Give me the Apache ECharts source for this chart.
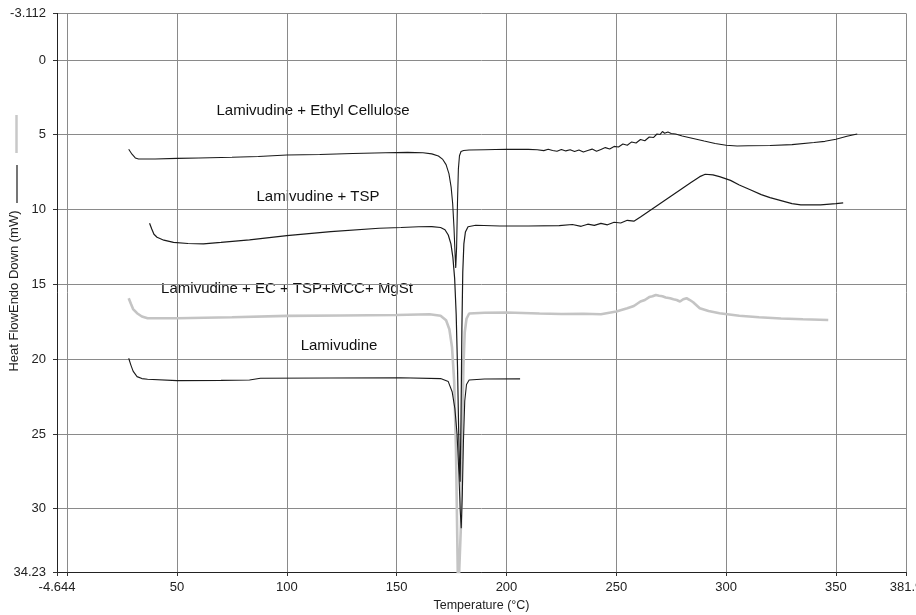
<!DOCTYPE html>
<html>
<head>
<meta charset="utf-8">
<script src="https://cdn.jsdelivr.net/npm/echarts@6/dist/echarts.min.js"></script>
<style>
html,body{margin:0;padding:0;background:#fff;}
#chart{width:916px;height:615px;}
</style>
</head>
<body>
<div id="chart"></div>
<script>
// ---- data ----
const xTicks = [-4.644, 0, 50, 100, 150, 200, 250, 300, 350, 381.9];
const xLabels = [-4.644, 50, 100, 150, 200, 250, 300, 350, 381.9];
const yTicks = [-3.112, 0, 5, 10, 15, 20, 25, 30, 34.23];

const seriesNames = ['Lamivudine + Ethyl Cellulose', 'Lamivudine + TSP', 'Lamivudine + EC + TSP+MCC+ MgSt', 'Lamivudine'];
const yAxisTitle = 'Heat FlowEndo Down (mW)';
const xAxisTitle = 'Temperature (°C)';

const ecTemp = [28.0, 29.5, 31.0, 32.5, 40, 50, 60, 75, 87, 100, 115, 130, 145, 155, 162, 166, 169, 171, 172.5, 173.8, 174.8, 175.5, 176.1, 176.6, 176.9, 177.3, 177.7, 178.1, 178.6, 179.3, 180.5, 183, 190, 200, 210, 214, 217, 219, 221, 223, 225, 227, 229, 231, 233, 235, 237, 239, 241, 243, 245, 247, 249, 251, 253, 255, 257, 259, 261, 263, 265, 267, 268.5, 270, 271, 272, 273.5, 275, 277, 280, 285, 290, 295, 300, 305, 310, 320, 330, 340, 345, 350, 355, 359.7];
const ecFlow = [5.97, 6.3, 6.55, 6.62, 6.62, 6.58, 6.55, 6.5, 6.45, 6.35, 6.32, 6.25, 6.2, 6.18, 6.2, 6.28, 6.42, 6.65, 7.0, 7.6, 8.5, 9.6, 11.2, 13.0, 13.9, 12.5, 9.5, 7.3, 6.4, 6.12, 6.05, 6.02, 6.0, 5.97, 5.98, 6.0, 6.06, 5.97, 6.05, 6.1, 5.98, 6.08, 6.0, 6.12, 6.02, 6.15, 6.05, 5.96, 6.1, 5.98, 5.86, 5.95, 5.78, 5.82, 5.62, 5.7, 5.48, 5.55, 5.32, 5.4, 5.15, 5.18, 4.95, 4.98, 4.78, 4.9, 4.82, 4.92, 4.95, 5.08, 5.25, 5.42, 5.58, 5.7, 5.75, 5.74, 5.72, 5.66, 5.52, 5.44, 5.3, 5.1, 4.95];

const tspTemp = [37.5, 38.5, 39.5, 40.9, 44, 48.4, 55, 62, 70, 83, 100, 120, 142, 152, 160, 166, 170, 172, 173.5, 174.7, 175.6, 176.4, 177.1, 177.7, 178.2, 178.6, 178.9, 179.3, 179.7, 180.1, 180.6, 181.3, 182.5, 186, 197, 210, 224, 230, 234, 237, 240, 243, 246, 249, 252, 255, 258, 261, 265, 270, 275, 280, 284, 288, 290.5, 294, 297, 302, 306, 311, 316, 320, 325, 330, 334, 343, 350, 353.3];
const tspFlow = [10.92, 11.3, 11.65, 11.85, 12.05, 12.2, 12.27, 12.3, 12.2, 12.03, 11.74, 11.48, 11.25, 11.2, 11.15, 11.14, 11.2, 11.35, 11.7, 12.3, 13.2, 14.6, 17.0, 20.5, 24.5, 27.5, 28.2, 24.0, 18.0, 14.2, 12.3, 11.5, 11.15, 11.05, 11.1, 11.1, 11.08, 11.0, 11.12, 10.98, 11.06, 10.92, 11.02, 10.85, 10.9, 10.72, 10.78, 10.5, 10.1, 9.6, 9.1, 8.6, 8.2, 7.8, 7.64, 7.68, 7.8, 8.05, 8.36, 8.68, 9.0, 9.2, 9.4, 9.6, 9.69, 9.69, 9.6, 9.55];

const mixTemp = [28.0, 29, 30, 31.8, 34, 36.6, 50, 75, 100, 125, 150, 165, 170, 172.5, 174, 175.2, 176.2, 177, 177.6, 178, 178.8, 179.3, 179.8, 180.4, 181, 181.8, 183, 190, 200, 215, 225, 235, 243, 250, 255, 258, 261, 263, 265, 266.5, 268, 269.5, 271, 272.5, 274.5, 276, 277.5, 279, 280.5, 282, 283.5, 285, 288, 292, 297, 306, 315, 325, 335, 346.5];
const mixFlow = [15.93, 16.3, 16.65, 16.93, 17.15, 17.27, 17.27, 17.2, 17.11, 17.08, 17.05, 17.0, 17.1, 17.4, 18.0, 19.2, 21.5, 26.0, 32.0, 36.0, 36.0, 31.0, 25.0, 20.5, 18.2, 17.3, 16.95, 16.9, 16.88, 16.95, 16.98, 16.97, 17.0, 16.82, 16.6, 16.45, 16.15, 16.05, 15.85, 15.8, 15.71, 15.76, 15.8, 15.88, 15.93, 16.0, 16.05, 16.15, 16.0, 15.93, 16.05, 16.2, 16.6, 16.78, 16.93, 17.1, 17.2, 17.28, 17.33, 17.38];

const lamTemp = [28.0, 29, 30, 31.8, 34, 36.6, 50, 70, 83, 88, 120, 151.6, 170, 173.5, 175.3, 176.5, 177.5, 178.3, 178.9, 179.4, 179.9, 180.4, 181, 181.8, 183, 190, 206.2];
const lamFlow = [19.94, 20.4, 20.8, 21.17, 21.3, 21.34, 21.44, 21.42, 21.39, 21.28, 21.26, 21.24, 21.3, 21.5, 22.2, 23.3, 25.0, 27.5, 30.0, 31.3, 29.0, 25.5, 22.8, 21.7, 21.4, 21.33, 21.32];

// ---- build ----
const pairs = (xs, ys) => xs.map((x, i) => [x, ys[i]]);
const FONT = '"Liberation Sans", Arial, sans-serif';
const chart = echarts.init(document.getElementById('chart'), null, {renderer: 'canvas'});

const lineSeries = (name, data, color, width) => ({
  name, type: 'line', data, showSymbol: false, symbol: 'none', smooth: false,
  lineStyle: {color, width}, clip: true, silent: true, z: width > 2 ? 2 : 3
});

chart.setOption({
  animation: false,
  backgroundColor: '#fff',
  textStyle: {fontFamily: FONT},
  grid: {left: 57, right: 10, top: 13.4, bottom: 43, containLabel: false, outerBoundsMode: 'none'},
  xAxis: {
    type: 'value', min: -4.644, max: 381.9,
    name: xAxisTitle, nameLocation: 'middle', nameGap: 24,
    nameTextStyle: {color: '#222', fontSize: 12.5, fontFamily: FONT},
    axisLine: {show: true, onZero: false, lineStyle: {color: '#222', width: 1}},
    axisTick: {show: true, length: 4, customValues: xTicks, lineStyle: {color: '#333'}},
    axisLabel: {customValues: xLabels, color: '#222', fontSize: 13, margin: 9, fontFamily: FONT,
      formatter: v => String(v), showMinLabel: true, showMaxLabel: true, hideOverlap: false},
    splitLine: {show: true, lineStyle: {color: '#8a8a8a', width: 1}}
  },
  yAxis: {
    type: 'value', inverse: true, min: -3.112, max: 34.23,
    axisLine: {show: true, onZero: false, lineStyle: {color: '#222', width: 1}},
    axisTick: {show: true, length: 4, customValues: yTicks, lineStyle: {color: '#333'}},
    axisLabel: {customValues: yTicks, color: '#222', fontSize: 13, margin: 11, fontFamily: FONT,
      formatter: v => String(v), showMinLabel: true, showMaxLabel: true, hideOverlap: false},
    splitLine: {show: true, lineStyle: {color: '#8a8a8a', width: 1}}
  },
  series: [
    lineSeries(seriesNames[2], pairs(mixTemp, mixFlow), '#c4c4c4', 2.6),
    lineSeries(seriesNames[0], pairs(ecTemp, ecFlow), '#1a1a1a', 1.1),
    lineSeries(seriesNames[1], pairs(tspTemp, tspFlow), '#1a1a1a', 1.2),
    lineSeries(seriesNames[3], pairs(lamTemp, lamFlow), '#1a1a1a', 1.1)
  ],
  graphic: [
    {type: 'text', x: 313, y: 111, style: {text: seriesNames[0], fill: '#111', font: '15px ' + FONT, align: 'center', verticalAlign: 'middle'}},
    {type: 'text', x: 318, y: 197, style: {text: seriesNames[1], fill: '#111', font: '15px ' + FONT, align: 'center', verticalAlign: 'middle'}},
    {type: 'text', x: 287, y: 289, style: {text: seriesNames[2], fill: '#111', font: '15px ' + FONT, align: 'center', verticalAlign: 'middle'}},
    {type: 'text', x: 339, y: 346, style: {text: seriesNames[3], fill: '#111', font: '15px ' + FONT, align: 'center', verticalAlign: 'middle'}},
    {type: 'text', x: 14, y: 291, rotation: Math.PI / 2, style: {text: yAxisTitle, fill: '#222', font: '13px ' + FONT, align: 'center', verticalAlign: 'middle'}},
    {type: 'line', shape: {x1: 16.5, y1: 115, x2: 16.5, y2: 153}, style: {stroke: '#c8c8c8', lineWidth: 2.5}},
    {type: 'line', shape: {x1: 17, y1: 165, x2: 17, y2: 203}, style: {stroke: '#1a1a1a', lineWidth: 1.2}}
  ]
});
</script>
</body>
</html>
